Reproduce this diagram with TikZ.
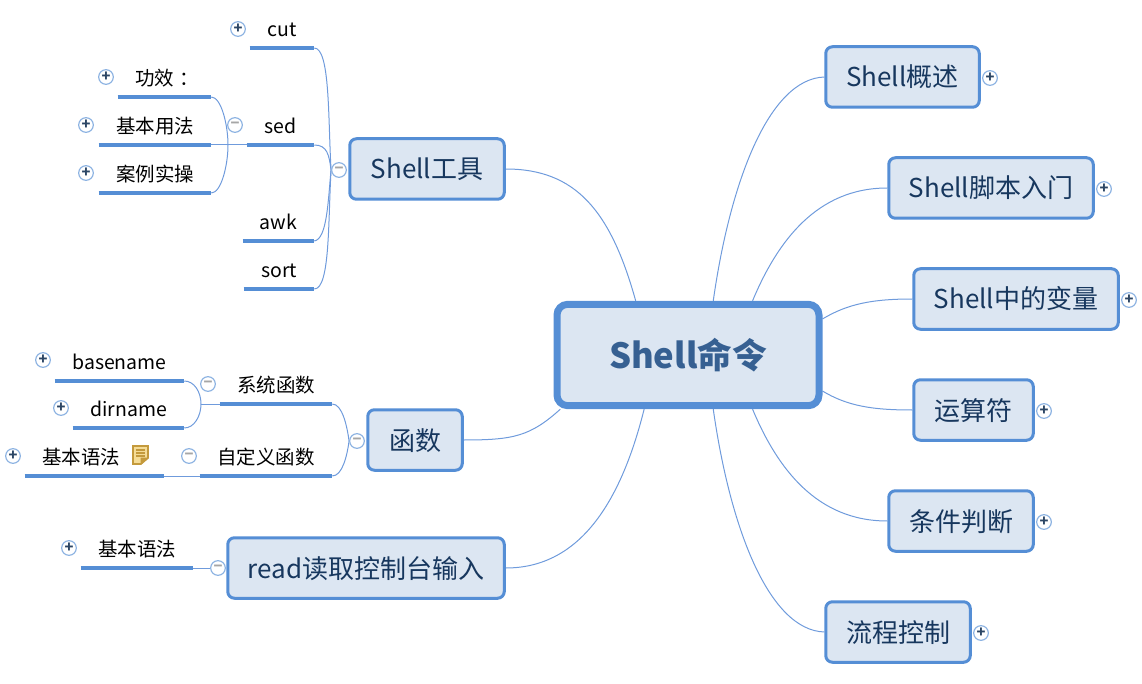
\documentclass[tikz,border=0pt]{standalone}
\usepackage{fontspec}
\setmainfont{Noto Sans CJK SC}
\usetikzlibrary{backgrounds}

\definecolor{boxline}{HTML}{558ED5}
\definecolor{boxfill}{HTML}{DCE6F2}
\definecolor{boxtext}{HTML}{17375E}
\definecolor{roottext}{HTML}{366092}
\definecolor{branchline}{HTML}{6F9BDC}
\definecolor{ringline}{HTML}{8DB3E2}
\definecolor{notefill}{HTML}{F5DC96}
\definecolor{noteline}{HTML}{C49A3C}

\tikzset{
    topic/.style 2 args={draw=boxline, fill=boxfill, line width=2.25pt, rounded corners=5pt, text=boxtext,
        font=\fontsize{19.5pt}{24pt}\selectfont, inner sep=0pt, text height=20pt, text depth=5pt,
        minimum width={(#1-1.5)*0.75pt}, minimum height={(#2-1.5)*0.75pt}},
    rootbox/.style={draw=boxline, fill=boxfill, line width=5.25pt, rounded corners=8pt, text=roottext,
        font=\fontsize{26pt}{30pt}\selectfont\bfseries, inner sep=0pt,
        minimum width=196.5pt, minimum height=76pt},
    subtopic/.style={anchor=south, inner sep=0pt, text height=14pt, text depth=8.75pt, text=black,
        font=\fontsize{14.6pt}{18pt}\selectfont, minimum width={#1*0.75pt}},
    subbar/.style={boxline, line width=3pt},
    branch/.style={branchline, line width=0.75pt},
    ring/.style={circle, draw=ringline, fill=white, line width=0.9pt, inner sep=0pt, minimum size=11pt,
        font=\fontsize{11pt}{11pt}\selectfont\bfseries},
    plusring/.style={ring, text=boxtext!80!gray},
    minusring/.style={ring, text=gray!70}
}

\begin{document}
\begin{tikzpicture}[x=0.75pt, y=-0.75pt]
    \useasboundingbox (0,0) rectangle (1142,684);

    % Central topic
    \node[rootbox] (root) at (688,355) {Shell命令};

    % Right side topics
    \node[topic={155}{62}] (overview) at (902.5,77) {Shell概述};
    \node[topic={206}{62}] (script) at (991,188) {Shell脚本入门};
    \node[topic={206}{62}] (vars) at (1016,299) {Shell中的变量};
    \node[topic={121}{62}] (ops) at (973.5,410) {运算符};
    \node[topic={146}{62}] (cond) at (961,521) {条件判断};
    \node[topic={146}{62}] (flow) at (898,632) {流程控制};

    % Left side topics
    \node[topic={156}{62}] (tools) at (427,169) {Shell工具};
    \node[topic={96}{62}] (func) at (415,440) {函数};
    \node[topic={278}{62}] (read) at (366,568) {read读取控制台输入};

    % Shell tools subtopics
    \node[subtopic=64] (cut) at (282,48) {cut};
    \node[subtopic=67] (sed) at (280.5,145) {sed};
    \node[subtopic=71] (awk) at (278.5,241) {awk};
    \node[subtopic=70] (sort) at (279,289) {sort};
    \node[subtopic=93] (effect) at (164.5,97) {\hspace*{4pt}功效\hspace*{4pt}：};
    \node[subtopic=112] (usage) at (155,145) {基本用法};
    \node[subtopic=112] (cases) at (155,193) {案例实操};

    % Function subtopics
    \node[subtopic=112] (sysfunc) at (276,404) {系统函数};
    \node[subtopic=132] (userfunc) at (266,476) {自定义函数};
    \node[subtopic=129] (basename) at (119.5,381) {basename};
    \node[subtopic=111] (dirname) at (128.5,428) {dirname};
    \node[subtopic=139] (syntax) at (94.5,476) {基本语法\hspace*{20pt}};

    % Read subtopic
    \node[subtopic=112] (readsyntax) at (137,568) {基本语法};

    % Underlines
    \foreach \n in {cut,sed,awk,sort,effect,usage,cases,sysfunc,userfunc,basename,dirname,syntax,readsyntax}
        \draw[subbar] (\n.south west) -- (\n.south east);

    % Collapse and expand marks
    \node[plusring] (overviewring) at (990,78) {+};
    \node[plusring] (scriptring) at (1104,189) {+};
    \node[plusring] (varsring) at (1129,300) {+};
    \node[plusring] (opsring) at (1044,411) {+};
    \node[plusring] (condring) at (1044,522) {+};
    \node[plusring] (flowring) at (981,633) {+};
    \node[minusring] (toolsring) at (339,170) {−};
    \node[minusring] (funcring) at (357,441) {−};
    \node[minusring] (readring) at (218,568) {−};
    \node[minusring] (sedring) at (235,125) {−};
    \node[minusring] (sysring) at (208,384) {−};
    \node[minusring] (userring) at (189,456) {−};
    \node[plusring] (cutring) at (238,29) {+};
    \node[plusring] (effectring) at (106,77) {+};
    \node[plusring] (usagering) at (86,125) {+};
    \node[plusring] (casesring) at (86,173) {+};
    \node[plusring] (basering) at (43,360) {+};
    \node[plusring] (dirring) at (61,408) {+};
    \node[plusring] (syntaxring) at (13,456) {+};
    \node[plusring] (readsyntaxring) at (69,548) {+};

    % Joins of the second level
    \coordinate (sedjoin) at (228,145);
    \coordinate (sysjoin) at (201,404);

    \begin{scope}[on background layer]
        % Central topic to right side topics
        \draw[branch] (root.65) .. controls +(17,-120) and +(-55,2) .. (overview.west);
        \draw[branch] (root.40) .. controls +(25,-60) and +(-70,0) .. (script.west);
        \draw[branch] (root.15) .. controls +(25,-15) and +(-40,0) .. (vars.west);
        \draw[branch] (root.-15) .. controls +(25,15) and +(-40,0) .. (ops.west);
        \draw[branch] (root.-40) .. controls +(25,60) and +(-70,0) .. (cond.west);
        \draw[branch] (root.-65) .. controls +(17,120) and +(-55,-2) .. (flow.west);

        % Central topic to left side topics
        \draw[branch] (root.134) .. controls +(-25,-90) and +(70,0) .. (tools.east);
        \draw[branch] (root.203) .. controls +(-30,27) and +(50,0) .. (func.east);
        \draw[branch] (root.231) .. controls +(-25,100) and +(70,0) .. (read.east);

        % Shell tools
        \draw[branch] (cut.south east) .. controls +(16,0) and +(-3,-50) .. (toolsring.west);
        \draw[branch] (sed.south east) .. controls +(13,0) and +(-2,-15) .. (toolsring.west);
        \draw[branch] (awk.south east) .. controls +(13,-2) and +(-3,30) .. (toolsring.west);
        \draw[branch] (sort.south east) .. controls +(16,0) and +(-3,50) .. (toolsring.west);

        % sed
        \draw[branch] (effect.south east) .. controls +(10,0) and +(0,-20) .. (sedjoin);
        \draw[branch] (cases.south east) .. controls +(10,0) and +(0,20) .. (sedjoin);
        \draw[branch] (usage.south east) -- (sed.south west);

        % Functions
        \draw[branch] (sysfunc.south east) .. controls +(10,0) and +(-2,-15) .. (funcring.west);
        \draw[branch] (userfunc.south east) .. controls +(10,0) and +(-2,15) .. (funcring.west);
        \draw[branch] (basename.south east) .. controls +(10,0) and +(0,-12) .. (sysjoin);
        \draw[branch] (dirname.south east) .. controls +(10,0) and +(0,12) .. (sysjoin);
        \draw[branch] (sysjoin) -- (sysfunc.south west);
        \draw[branch] (syntax.south east) -- (userfunc.south west);

        % Read
        \draw[branch] (readsyntax.south east) -- (readring.west);
    \end{scope}

    % Note icon
    \draw[fill=notefill, draw=noteline, line width=1.2pt]
        (133,446) -- (148,446) -- (148,458) -- (141,464) -- (133,464) -- cycle;
    \draw[fill=noteline, draw=noteline, line width=0.5pt] (141,464) -- (141,458) -- (148,458) -- cycle;
    \foreach \y in {450,453,456}
        \draw[noteline, line width=0.9pt] (136,\y) -- (145,\y);
\end{tikzpicture}
\end{document}
